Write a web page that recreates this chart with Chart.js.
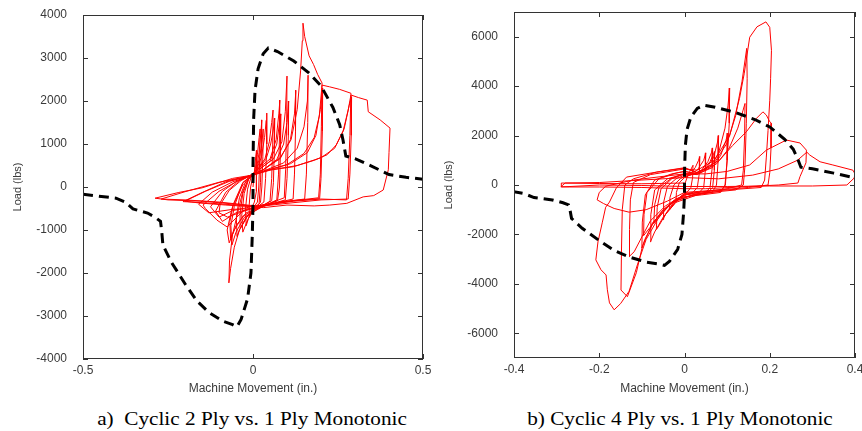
<!DOCTYPE html>
<html>
<head>
<meta charset="utf-8">
<script src="https://cdn.jsdelivr.net/npm/chart.js@4.4.1/dist/chart.umd.min.js"></script>
<style>
  body { margin: 0; background: #fff; width: 862px; height: 431px; position: relative; overflow: hidden; }
  canvas { position: absolute; top: 0; }
  #chartA { left: 0; }
  #chartB { left: 431px; }
  .caption {
    position: absolute; top: 410px; width: 300px; text-align: center;
    font-family: "Liberation Serif", "Times New Roman", serif; font-size: 18px; line-height: 18px;
    color: #000; white-space: pre; transform: scaleX(1.18);
  }
</style>
</head>
<body>
<canvas id="chartA" width="431" height="400"></canvas>
<canvas id="chartB" width="431" height="400"></canvas>
<div class="caption" style="left:102px">a)  Cyclic 2 Ply vs. 1 Ply Monotonic</div>
<div class="caption" style="left:530px">b) Cyclic 4 Ply vs. 1 Ply Monotonic</div>

<script>
// 1 ply monotonic test (same curve on both plots)
const monoX = [-0.5, -0.403, -0.376, -0.353, -0.31, -0.285, -0.272, -0.268, -0.265, -0.24, -0.2, -0.165, -0.129, -0.089, -0.06, -0.047, -0.035, -0.016, -0.006, -0.002, 0, 0, 0.002, 0.006, 0.015, 0.03, 0.045, 0.072, 0.12, 0.165, 0.2, 0.235, 0.255, 0.265, 0.273, 0.3, 0.35, 0.4, 0.45, 0.5];
const monoY = [-170, -260, -350, -510, -606, -720, -800, -1070, -1350, -1750, -2250, -2650, -2920, -3120, -3200, -3250, -3080, -2600, -2000, -1100, -400, 500, 1600, 2250, 2750, 3100, 3230, 3150, 2930, 2650, 2350, 1850, 1450, 1080, 720, 660, 480, 290, 225, 180];

// cyclic 2 ply, [in., lbs] in test order
const cyclic2 = [
  [0, 0],
  [0.004, 350], [0.008, 700], [0.011, 850], [0.011, 400], [0.009, -100], [0.004, -350], [-0.004, -500], [-0.01, -700], [-0.011, -400], [-0.007, 0], [0, 250],
  [0.006, 380], [0.013, 750], [0.018, 1150], [0.021, 1350], [0.02, 700], [0.017, 0], [0.013, -350], [0.004, -450], [-0.01, -650], [-0.02, -900], [-0.022, -500], [-0.016, -50], [-0.006, 220], [0.002, 300],
  [0.01, 420], [0.018, 800], [0.023, 1250], [0.026, 1560], [0.025, 900], [0.022, 100], [0.018, -380], [0.006, -480], [-0.015, -750], [-0.03, -1050], [-0.033, -650], [-0.026, -150], [-0.012, 200], [0, 300],
  [0.01, 400], [0.02, 700], [0.027, 1100], [0.03, 1350], [0.029, 700], [0.026, 0], [0.022, -360], [0.008, -470], [-0.018, -700], [-0.036, -950], [-0.038, -600], [-0.03, -150], [-0.014, 180], [0, 300],
  [0.012, 430], [0.025, 700], [0.034, 1150], [0.039, 1550], [0.041, 1720], [0.04, 1000], [0.037, 200], [0.032, -350], [0.015, -450], [-0.02, -700], [-0.04, -1000], [-0.047, -1150], [-0.049, -700], [-0.04, -250], [-0.02, 150], [0, 300],
  [0.015, 450], [0.035, 650], [0.048, 1050], [0.055, 1500], [0.059, 1790], [0.058, 1000], [0.055, 200], [0.05, -330], [0.02, -480], [-0.025, -700], [-0.05, -1050], [-0.062, -1350], [-0.065, -900], [-0.055, -450], [-0.03, 100], [0, 300],
  [0.015, 430], [0.038, 640], [0.052, 1000], [0.06, 1350], [0.064, 1600], [0.063, 900], [0.06, 100], [0.055, -320], [0.02, -460], [-0.03, -680], [-0.055, -1000], [-0.066, -1200], [-0.068, -800], [-0.058, -400], [-0.03, 100], [0, 300],
  [0.02, 460], [0.05, 650], [0.068, 1100], [0.076, 1700], [0.079, 2020], [0.078, 1200], [0.075, 300], [0.07, -300], [0.03, -450], [-0.015, -650], [-0.04, -1000], [-0.055, -1400], [-0.066, -1900], [-0.071, -2230], [-0.069, -1700], [-0.06, -1100], [-0.045, -600], [-0.03, -100], [-0.012, 200], [0, 300],
  [0.02, 420], [0.05, 600], [0.07, 1000], [0.078, 1500], [0.082, 1700], [0.081, 900], [0.078, 0], [0.072, -320], [0.03, -450], [-0.02, -600], [-0.05, -900], [-0.07, -1300], [-0.076, -1000], [-0.062, -500], [-0.03, 50], [0, 280],
  [0.02, 420], [0.06, 650], [0.085, 1050], [0.095, 1750], [0.1, 2580], [0.099, 1500], [0.096, 400], [0.092, -250], [0.05, -380], [0, -480], [-0.04, -600], [-0.075, -700], [-0.1, -600], [-0.097, -420], [-0.07, -80], [-0.035, 150], [0, 300],
  [0.03, 400], [0.07, 640], [0.09, 1000], [0.1, 1500], [0.105, 2000], [0.104, 1200], [0.1, 200], [0.095, -300], [0.05, -400], [0, -480], [-0.05, -600], [-0.09, -800], [-0.11, -560], [-0.08, -120], [-0.04, 150], [0, 300],
  [0.03, 400], [0.08, 660], [0.11, 1100], [0.122, 1700], [0.126, 2250], [0.125, 1300], [0.122, 300], [0.118, -280], [0.06, -380], [0, -450], [-0.06, -550], [-0.1, -700], [-0.125, -460], [-0.09, -100], [-0.045, 150], [0, 300],
  [0.03, 400], [0.08, 680], [0.112, 1100], [0.13, 1800], [0.14, 2700], [0.145, 3400], [0.147, 3810], [0.152, 3500], [0.165, 3050], [0.178, 2850], [0.19, 2620], [0.203, 2420], [0.201, 1400], [0.198, 300], [0.193, -250], [0.14, -300], [0.08, -350], [0.03, -450], [-0.03, -560], [-0.076, -930], [-0.106, -770], [-0.14, -500], [-0.147, -420], [-0.1, -100], [-0.05, 120], [0, 280],
  [0.04, 400], [0.09, 560], [0.13, 900], [0.15, 1400], [0.16, 2000], [0.162, 2600], [0.161, 1500], [0.157, 300], [0.152, -280], [0.1, -330], [0.04, -420], [0, -500], [-0.06, -520], [-0.13, -600], [-0.16, -400], [-0.12, -120], [-0.06, 120], [0, 280],
  [0.04, 380], [0.1, 520], [0.15, 780], [0.18, 1150], [0.195, 1650], [0.203, 2370], [0.225, 2330], [0.255, 2270], [0.288, 2180], [0.285, 1200], [0.28, 200], [0.275, -300], [0.2, -280], [0.12, -330], [0.05, -400], [0, -450], [-0.05, -420], [-0.12, -380], [-0.18, -350], [-0.206, -340], [-0.15, -130], [-0.08, 120], [0, 280],
  [0.04, 390], [0.11, 540], [0.16, 800], [0.185, 1200], [0.198, 1800], [0.205, 2300], [0.204, 1300], [0.2, 200], [0.196, -270], [0.12, -320], [0.04, -420], [0, -460], [-0.08, -420], [-0.16, -370], [-0.2, -330], [-0.14, -100], [-0.07, 130], [0, 280],
  [0.05, 400], [0.118, 470], [0.18, 620], [0.218, 750], [0.245, 980], [0.265, 1300], [0.28, 1790], [0.288, 2140], [0.31, 2080], [0.336, 2020], [0.339, 1750], [0.374, 1560], [0.403, 1370], [0.4, 800], [0.398, 400], [0.383, -70], [0.355, -200], [0.324, -230], [0.276, -380], [0.226, -420], [0.18, -440], [0.1, -420], [0.03, -480], [-0.05, -400], [-0.15, -330], [-0.25, -300], [-0.288, -260], [-0.22, -130], [-0.15, -20], [-0.06, 200], [0, 280],
  [0.05, 390], [0.13, 500], [0.2, 680], [0.24, 900], [0.268, 1350], [0.283, 1900], [0.29, 2100], [0.289, 1200], [0.285, 300], [0.28, -280], [0.2, -300], [0.1, -380], [0.02, -450], [-0.1, -350], [-0.2, -300], [-0.27, -280], [-0.2, -110], [-0.1, 110], [0, 270], [0.02, 330]
];

// cyclic 4 ply, [in., lbs] in test order
const cyclic4 = [
  [0, 0],
  [0.006, 300], [0.014, 600], [0.02, 800], [0.019, 300], [0.015, -100], [0.008, -250], [-0.005, -400], [-0.015, -600], [-0.02, -700], [-0.019, -300], [-0.012, 100], [0, 300],
  [0.012, 400], [0.025, 700], [0.033, 1000], [0.036, 1150], [0.035, 500], [0.03, -100], [0.02, -300], [0, -350], [-0.015, -550], [-0.028, -850], [-0.035, -1000], [-0.034, -500], [-0.025, 0], [-0.01, 250], [0, 350],
  [0.015, 400], [0.032, 650], [0.045, 1000], [0.05, 1300], [0.049, 600], [0.045, -100], [0.035, -300], [0.01, -350], [-0.02, -600], [-0.038, -1000], [-0.048, -1300], [-0.05, -1400], [-0.049, -700], [-0.04, -50], [-0.02, 250], [0, 400],
  [0.02, 420], [0.04, 600], [0.055, 950], [0.063, 1300], [0.066, 1500], [0.065, 700], [0.06, -100], [0.05, -300], [0.02, -400], [-0.02, -650], [-0.045, -1200], [-0.06, -1650], [-0.066, -1800], [-0.064, -900], [-0.055, -150], [-0.03, 250], [0, 450],
  [0.02, 430], [0.045, 620], [0.06, 950], [0.068, 1250], [0.071, 1350], [0.07, 600], [0.066, -100], [0.055, -300], [0.02, -400], [-0.025, -650], [-0.05, -1100], [-0.066, -1450], [-0.072, -1550], [-0.07, -800], [-0.06, -100], [-0.03, 280], [0, 450],
  [0.02, 450], [0.05, 650], [0.068, 1100], [0.077, 1700], [0.08, 2000], [0.079, 1000], [0.075, 0], [0.065, -300], [0.03, -400], [-0.02, -700], [-0.05, -1300], [-0.07, -1900], [-0.08, -2300], [-0.079, -1200], [-0.07, -200], [-0.04, 250], [0, 450],
  [0.03, 420], [0.06, 700], [0.08, 1300], [0.095, 2300], [0.102, 3200], [0.106, 3920], [0.105, 2500], [0.1, 1000], [0.095, 0], [0.085, -300], [0.04, -400], [-0.01, -500], [-0.05, -1000], [-0.075, -1600], [-0.093, -2200], [-0.1, -2550], [-0.099, -1500], [-0.092, -400], [-0.07, 200], [-0.03, 450], [0, 550],
  [0.03, 450], [0.065, 700], [0.085, 1200], [0.097, 1800], [0.102, 2100], [0.1, 1000], [0.096, 0], [0.085, -250], [0.04, -350], [-0.02, -550], [-0.055, -1100], [-0.08, -1700], [-0.096, -2050], [-0.095, -1200], [-0.088, -300], [-0.06, 250], [-0.02, 480], [0, 550],
  [0.03, 450], [0.07, 900], [0.1, 1700], [0.12, 2800], [0.135, 4200], [0.146, 5530], [0.147, 4300], [0.145, 2500], [0.142, 800], [0.138, 0], [0.12, -200], [0.06, -300], [0, -400], [-0.04, -880], [-0.075, -1530], [-0.099, -2500], [-0.113, -3550], [-0.134, -4520], [-0.149, -4250], [-0.148, -2800], [-0.146, -1000], [-0.14, 0], [-0.12, 250], [-0.066, 520], [0, 680],
  [0.03, 500], [0.075, 850], [0.105, 1500], [0.125, 2300], [0.137, 3000], [0.142, 3300], [0.141, 2000], [0.138, 600], [0.134, 0], [0.1, -150], [0.04, -280], [0, -380], [-0.045, -850], [-0.08, -1450], [-0.1, -2100], [-0.118, -2700], [-0.13, -2900], [-0.129, -1800], [-0.127, -600], [-0.12, 100], [-0.08, 420], [0, 650],
  [0.03, 600], [0.07, 1000], [0.106, 2000], [0.129, 3500], [0.14, 4500], [0.153, 5980], [0.17, 6400], [0.191, 6600], [0.2, 6380], [0.204, 5450], [0.202, 4300], [0.2, 3430], [0.196, 2200], [0.192, 1130], [0.188, 200], [0.18, -100], [0.1, -200], [0.03, -300], [0, -400],
  [-0.03, -700], [-0.06, -1300], [-0.09, -2200], [-0.11, -3200], [-0.13, -4300], [-0.15, -4800], [-0.165, -5050], [-0.176, -4770], [-0.181, -4240], [-0.184, -3640], [-0.196, -3430], [-0.208, -3030], [-0.203, -2300], [-0.193, -1530], [-0.185, -900], [-0.176, -690], [-0.16, -120], [-0.136, 320], [-0.066, 520], [0, 700],
  [0.03, 500], [0.082, 1000], [0.113, 1600], [0.145, 2150], [0.169, 2700], [0.184, 2960], [0.192, 2830], [0.2, 2560], [0.204, 2500], [0.203, 1500], [0.2, 500], [0.196, 0], [0.15, -100], [0.08, -200], [0, -300],
  [-0.04, -650], [-0.09, -1000], [-0.13, -1100], [-0.165, -950], [-0.19, -750], [-0.205, -600], [-0.2, -300], [-0.185, -50], [-0.12, 200], [-0.05, 350], [0, 450],
  [0.05, 450], [0.1, 550], [0.153, 810], [0.192, 1410], [0.239, 1820], [0.271, 1700], [0.286, 1410], [0.285, 900], [0.271, 340], [0.266, 80], [0.22, 0], [0.15, -60], [0.05, -150], [0, -150], [-0.1, -100], [-0.2, -80], [-0.27, -80], [-0.29, -70], [-0.28, 80], [-0.2, 100], [-0.1, 200], [0, 300],
  [0.08, 250], [0.16, 400], [0.22, 650], [0.265, 1000], [0.287, 1330], [0.294, 1210], [0.318, 940], [0.348, 810], [0.395, 600], [0.4, 450], [0.398, 280], [0.381, 0], [0.3, -40], [0.2, -40], [0.1, -60], [0, -60], [-0.1, -20], [-0.2, 0], [-0.289, -80], [-0.289, 80], [-0.2, 60], [-0.1, 50], [0, 80]
];

const leftXTicks = { min: -0.5, max: 0.5, step: 0.5 };
const leftYTicks = { min: -4000, max: 4000, step: 1000 };
const rightXTicks = { min: -0.4, max: 0.4, step: 0.2 };
const rightYTicks = { min: -7000, max: 7000, step: 1000 };

const textColor = "#3a3a3a";
const axisFont = { family: "'Liberation Sans', Arial, sans-serif", size: 12 };

// box round the plot with inward tick marks on all four sides
const framePlugin = {
  id: "frame",
  afterDatasetsDraw(chart) {
    const { ctx, chartArea: a, scales } = chart;
    ctx.save();
    ctx.strokeStyle = "#333";
    ctx.lineWidth = 1;
    ctx.strokeRect(a.left + 0.5, a.top + 0.5, a.right - a.left - 1, a.bottom - a.top - 1);
    ctx.beginPath();
    scales.x.ticks.forEach(t => {
      const px = Math.round(scales.x.getPixelForValue(t.value)) + 0.5;
      ctx.moveTo(px, a.bottom); ctx.lineTo(px, a.bottom - 5);
      ctx.moveTo(px, a.top); ctx.lineTo(px, a.top + 5);
    });
    scales.y.ticks.forEach(t => {
      if (t.label === "") return;
      const py = Math.round(scales.y.getPixelForValue(t.value)) + 0.5;
      ctx.moveTo(a.left, py); ctx.lineTo(a.left + 5, py);
      ctx.moveTo(a.right, py); ctx.lineTo(a.right - 5, py);
    });
    ctx.stroke();
    ctx.restore();
  }
};

function toPoints(pairs) {
  return pairs.map(p => ({ x: p[0], y: p[1] }));
}

function makeChart(canvasId, cyclic, xt, yt, topPad, rightPad, axisHeight, yLabelEvery) {
  const mono = monoX.map((x, i) => ({ x: x, y: monoY[i] }));
  return new Chart(document.getElementById(canvasId), {
    type: "scatter",
    data: {
      datasets: [
        {
          data: mono,
          showLine: true,
          borderColor: "#000",
          borderWidth: 3,
          borderDash: [10, 6],
          pointRadius: 0,
          tension: 0,
        },
        {
          data: toPoints(cyclic),
          showLine: true,
          borderColor: "#ff0000",
          borderWidth: 1,
          pointRadius: 0,
          tension: 0,
        },
      ],
    },
    options: {
      responsive: false,
      animation: false,
      layout: { padding: { top: topPad, right: rightPad, left: 0, bottom: 0 } },
      plugins: { legend: { display: false }, tooltip: { enabled: false } },
      scales: {
        x: {
          type: "linear",
          min: xt.min,
          max: xt.max,
          grid: { display: false, drawTicks: false },
          border: { display: false },
          ticks: {
            stepSize: xt.step,
            padding: 4,
            maxRotation: 0,
            color: textColor,
            font: axisFont,
            callback: v => String(Number(v.toFixed(2))),
          },
          title: {
            display: true,
            text: "Machine Movement (in.)",
            color: textColor,
            font: axisFont,
            padding: { top: 0, bottom: 4 },
          },
          afterFit(s) { s.height = axisHeight; s.paddingLeft = 0; s.paddingRight = 0; },
        },
        y: {
          type: "linear",
          min: yt.min,
          max: yt.max,
          grid: { display: false, drawTicks: false },
          border: { display: false },
          ticks: {
            stepSize: yt.step,
            padding: 16,
            color: textColor,
            font: axisFont,
            callback: v => (Math.round(v) % yLabelEvery === 0 ? String(Math.round(v)) : ""),
          },
          title: {
            display: true,
            text: "Load (lbs)",
            color: textColor,
            font: { family: axisFont.family, size: 11 },
            padding: { top: 11, bottom: 0 },
          },
          afterFit(s) { s.width = 83; s.paddingTop = 0; s.paddingBottom = 0; },
        },
      },
    },
    plugins: [framePlugin],
  });
}

makeChart("chartA", cyclic2, leftXTicks, leftYTicks, 15, 8, 41, 1000);
makeChart("chartB", cyclic4, rightXTicks, rightYTicks, 12, 7, 42, 2000);
</script>
</body>
</html>
